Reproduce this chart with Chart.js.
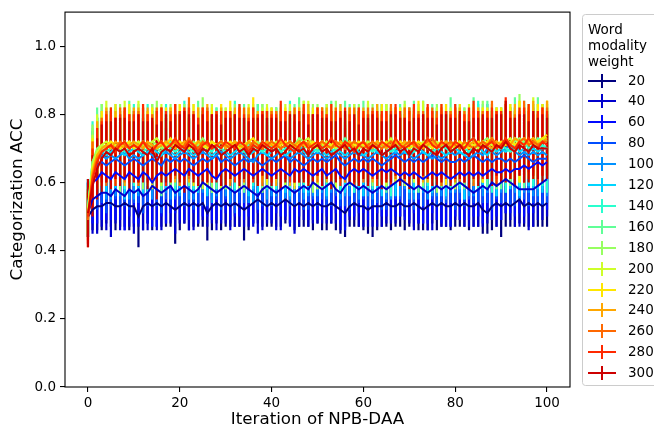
<!DOCTYPE html>
<html>
<head>
<meta charset="utf-8">
<script src="https://cdn.jsdelivr.net/npm/chart.js@4.4.0/dist/chart.umd.min.js"></script>
<style>
  html, body { margin: 0; padding: 0; background: #fff; }
</style>
</head>
<body>
<canvas id="accChart" width="654" height="432"></canvas>
<script>
// iterations (x categories)
const iterations = [
  0,1,2,3,4,5,6,7,8,9,10,11,12,13,14,15,16,17,18,19,
  20,21,22,23,24,25,26,27,28,29,30,31,32,33,34,35,36,37,38,39,
  40,41,42,43,44,45,46,47,48,49,50,51,52,53,54,55,56,57,58,59,
  60,61,62,63,64,65,66,67,68,69,70,71,72,73,74,75,76,77,78,79,
  80,81,82,83,84,85,86,87,88,89,90,91,92,93,94,95,96,97,98,99,100
];
const weights = ["20","40","60","80","100","120","140","160","180","200","220","240","260","280","300"];
const legendTitleLines = ["Word", "modality", "weight"];
const xTickValues = [0, 20, 40, 60, 80, 100];
const yTickValues = [0, 0.2, 0.4, 0.6, 0.8, 1.0];

// mean accuracy per weight
const acc20 = [
  0.50,0.52,0.53,0.53,0.54,0.54,0.53,0.53,0.54,0.53,
  0.53,0.50,0.53,0.54,0.53,0.54,0.53,0.54,0.53,0.52,
  0.53,0.54,0.53,0.54,0.53,0.54,0.51,0.53,0.54,0.53,
  0.54,0.53,0.54,0.53,0.52,0.53,0.54,0.55,0.54,0.53,
  0.54,0.53,0.54,0.55,0.54,0.53,0.54,0.53,0.54,0.53,
  0.54,0.53,0.53,0.54,0.53,0.52,0.51,0.53,0.54,0.53,
  0.53,0.52,0.53,0.53,0.53,0.54,0.53,0.53,0.54,0.53,
  0.53,0.54,0.53,0.52,0.53,0.54,0.53,0.54,0.53,0.53,
  0.54,0.53,0.54,0.53,0.53,0.54,0.52,0.51,0.53,0.54,
  0.53,0.54,0.53,0.54,0.55,0.53,0.54,0.53,0.54,0.53,0.54
];
const acc40 = [
  0.51,0.55,0.56,0.57,0.57,0.56,0.58,0.57,0.56,0.58,
  0.57,0.58,0.56,0.57,0.59,0.58,0.57,0.58,0.59,0.57,
  0.58,0.59,0.58,0.57,0.58,0.60,0.59,0.58,0.57,0.58,
  0.59,0.58,0.57,0.58,0.59,0.58,0.57,0.56,0.58,0.59,
  0.58,0.57,0.58,0.59,0.58,0.57,0.58,0.59,0.58,0.60,
  0.59,0.58,0.59,0.60,0.58,0.57,0.59,0.60,0.59,0.58,
  0.59,0.58,0.57,0.58,0.59,0.58,0.59,0.60,0.61,0.60,
  0.59,0.58,0.59,0.58,0.57,0.58,0.59,0.58,0.59,0.58,
  0.59,0.60,0.59,0.58,0.57,0.58,0.59,0.58,0.60,0.59,
  0.60,0.61,0.60,0.59,0.58,0.58,0.58,0.58,0.59,0.60,0.61
];
const acc60 = [
  0.52,0.60,0.61,0.63,0.62,0.61,0.63,0.62,0.61,0.63,
  0.62,0.61,0.63,0.62,0.60,0.62,0.63,0.62,0.63,0.64,
  0.63,0.62,0.64,0.63,0.62,0.63,0.64,0.62,0.61,0.63,
  0.64,0.63,0.62,0.63,0.64,0.63,0.62,0.63,0.64,0.63,
  0.62,0.63,0.64,0.63,0.62,0.64,0.63,0.64,0.63,0.62,
  0.63,0.64,0.62,0.63,0.64,0.62,0.61,0.63,0.64,0.63,
  0.64,0.63,0.62,0.63,0.64,0.63,0.64,0.63,0.62,0.63,
  0.62,0.63,0.62,0.61,0.62,0.63,0.62,0.63,0.62,0.61,
  0.62,0.63,0.62,0.63,0.62,0.63,0.62,0.63,0.64,0.63,
  0.63,0.64,0.63,0.64,0.64,0.65,0.64,0.65,0.66,0.65,0.66
];
const acc80 = [
  0.52,0.63,0.65,0.66,0.65,0.66,0.67,0.66,0.65,0.66,
  0.67,0.66,0.65,0.66,0.67,0.66,0.65,0.67,0.66,0.67,
  0.66,0.67,0.66,0.65,0.66,0.67,0.66,0.67,0.68,0.66,
  0.67,0.66,0.65,0.66,0.67,0.66,0.67,0.66,0.65,0.66,
  0.67,0.66,0.67,0.68,0.66,0.67,0.66,0.65,0.66,0.67,
  0.66,0.67,0.66,0.67,0.68,0.66,0.65,0.66,0.67,0.66,
  0.67,0.66,0.67,0.66,0.65,0.66,0.67,0.68,0.67,0.66,
  0.67,0.66,0.67,0.66,0.67,0.68,0.67,0.66,0.67,0.66,
  0.66,0.67,0.66,0.67,0.68,0.67,0.66,0.67,0.66,0.67,
  0.67,0.66,0.67,0.66,0.67,0.68,0.67,0.66,0.67,0.67,0.67
];
const acc100 = [
  0.53,0.64,0.67,0.68,0.67,0.68,0.67,0.68,0.69,0.67,
  0.68,0.67,0.68,0.69,0.68,0.67,0.68,0.69,0.68,0.67,
  0.68,0.69,0.68,0.67,0.68,0.69,0.68,0.67,0.68,0.69,
  0.68,0.67,0.68,0.69,0.68,0.67,0.66,0.68,0.69,0.68,
  0.67,0.68,0.69,0.68,0.67,0.68,0.69,0.68,0.67,0.68,
  0.69,0.68,0.67,0.68,0.69,0.68,0.67,0.68,0.69,0.68,
  0.68,0.67,0.68,0.69,0.68,0.67,0.68,0.69,0.68,0.69,
  0.68,0.67,0.68,0.69,0.68,0.67,0.68,0.67,0.68,0.69,
  0.68,0.69,0.68,0.67,0.68,0.69,0.68,0.70,0.69,0.68,
  0.69,0.70,0.71,0.69,0.68,0.69,0.68,0.69,0.68,0.69,0.68
];
const acc120 = [
  0.52,0.65,0.68,0.69,0.68,0.69,0.70,0.69,0.68,0.69,
  0.70,0.69,0.68,0.69,0.70,0.69,0.68,0.70,0.69,0.68,
  0.69,0.70,0.69,0.68,0.69,0.70,0.69,0.68,0.69,0.70,
  0.69,0.68,0.69,0.70,0.69,0.68,0.69,0.70,0.69,0.68,
  0.69,0.70,0.69,0.68,0.69,0.70,0.71,0.69,0.68,0.69,
  0.70,0.69,0.68,0.69,0.70,0.69,0.68,0.69,0.70,0.69,
  0.68,0.69,0.70,0.69,0.68,0.69,0.70,0.69,0.70,0.69,
  0.68,0.69,0.70,0.69,0.68,0.69,0.70,0.69,0.68,0.69,
  0.70,0.69,0.68,0.69,0.70,0.71,0.69,0.68,0.70,0.69,
  0.70,0.69,0.70,0.71,0.69,0.70,0.69,0.70,0.69,0.70,0.70
];
const acc140 = [
  0.53,0.66,0.69,0.70,0.69,0.70,0.71,0.70,0.69,0.70,
  0.71,0.70,0.69,0.70,0.71,0.70,0.69,0.71,0.70,0.69,
  0.70,0.71,0.70,0.69,0.70,0.71,0.70,0.69,0.71,0.70,
  0.69,0.70,0.71,0.70,0.69,0.70,0.71,0.70,0.69,0.70,
  0.71,0.70,0.69,0.70,0.71,0.70,0.69,0.70,0.71,0.70,
  0.69,0.70,0.71,0.70,0.69,0.70,0.71,0.70,0.69,0.70,
  0.71,0.70,0.69,0.70,0.71,0.70,0.69,0.70,0.71,0.70,
  0.70,0.69,0.70,0.71,0.70,0.69,0.70,0.71,0.70,0.69,
  0.70,0.71,0.70,0.69,0.70,0.71,0.72,0.70,0.69,0.70,
  0.71,0.70,0.69,0.70,0.71,0.72,0.70,0.71,0.70,0.71,0.70
];
const acc160 = [
  0.52,0.66,0.69,0.70,0.71,0.70,0.71,0.70,0.72,0.71,
  0.70,0.71,0.72,0.70,0.71,0.70,0.69,0.71,0.72,0.71,
  0.70,0.72,0.71,0.70,0.71,0.72,0.70,0.71,0.70,0.72,
  0.71,0.70,0.71,0.72,0.70,0.71,0.70,0.71,0.72,0.71,
  0.70,0.71,0.72,0.71,0.70,0.71,0.72,0.71,0.70,0.72,
  0.71,0.70,0.72,0.71,0.70,0.71,0.73,0.71,0.70,0.71,
  0.72,0.71,0.70,0.71,0.72,0.70,0.71,0.72,0.71,0.70,
  0.71,0.72,0.70,0.71,0.70,0.72,0.71,0.70,0.71,0.72,
  0.71,0.70,0.71,0.72,0.73,0.71,0.70,0.71,0.72,0.71,
  0.70,0.72,0.71,0.73,0.72,0.71,0.72,0.71,0.73,0.72,0.72
];
const acc180 = [
  0.51,0.66,0.70,0.71,0.70,0.72,0.71,0.70,0.71,0.72,
  0.71,0.72,0.70,0.71,0.72,0.71,0.70,0.72,0.71,0.70,
  0.72,0.71,0.70,0.72,0.71,0.73,0.71,0.70,0.71,0.72,
  0.70,0.71,0.72,0.71,0.70,0.72,0.71,0.72,0.70,0.71,
  0.72,0.71,0.70,0.71,0.72,0.71,0.73,0.72,0.71,0.70,
  0.71,0.72,0.71,0.70,0.72,0.71,0.70,0.71,0.72,0.71,
  0.70,0.72,0.71,0.72,0.70,0.71,0.72,0.71,0.70,0.72,
  0.71,0.70,0.72,0.71,0.73,0.71,0.70,0.72,0.71,0.70,
  0.72,0.71,0.70,0.71,0.72,0.71,0.72,0.73,0.71,0.70,
  0.71,0.72,0.71,0.72,0.73,0.72,0.71,0.72,0.71,0.73,0.72
];
const acc200 = [
  0.52,0.65,0.69,0.71,0.72,0.71,0.70,0.71,0.72,0.70,
  0.71,0.72,0.71,0.70,0.72,0.73,0.71,0.70,0.71,0.72,
  0.71,0.70,0.72,0.71,0.72,0.70,0.71,0.72,0.71,0.70,
  0.72,0.71,0.72,0.70,0.71,0.72,0.71,0.70,0.72,0.71,
  0.71,0.72,0.70,0.71,0.72,0.70,0.71,0.72,0.73,0.71,
  0.70,0.71,0.72,0.71,0.70,0.72,0.71,0.72,0.71,0.70,
  0.71,0.72,0.71,0.70,0.72,0.71,0.73,0.71,0.72,0.71,
  0.72,0.71,0.70,0.72,0.71,0.70,0.72,0.71,0.72,0.71,
  0.70,0.72,0.71,0.72,0.71,0.70,0.71,0.72,0.71,0.72,
  0.71,0.72,0.73,0.71,0.72,0.71,0.72,0.73,0.72,0.73,0.73
];
const acc220 = [
  0.51,0.64,0.68,0.70,0.71,0.72,0.71,0.70,0.71,0.72,
  0.70,0.71,0.72,0.71,0.70,0.71,0.72,0.71,0.73,0.71,
  0.72,0.71,0.70,0.71,0.72,0.71,0.70,0.72,0.71,0.72,
  0.71,0.72,0.71,0.70,0.71,0.72,0.73,0.71,0.70,0.71,
  0.72,0.70,0.71,0.72,0.71,0.70,0.72,0.71,0.70,0.72,
  0.71,0.72,0.70,0.71,0.72,0.71,0.70,0.72,0.71,0.72,
  0.71,0.70,0.71,0.72,0.71,0.72,0.70,0.71,0.72,0.71,
  0.70,0.71,0.72,0.71,0.72,0.70,0.71,0.72,0.71,0.70,
  0.71,0.72,0.71,0.70,0.71,0.72,0.71,0.72,0.73,0.71,
  0.72,0.71,0.72,0.71,0.72,0.73,0.72,0.71,0.72,0.73,0.74
];
const acc240 = [
  0.50,0.63,0.68,0.70,0.71,0.70,0.72,0.71,0.70,0.71,
  0.72,0.71,0.70,0.72,0.71,0.70,0.71,0.72,0.71,0.70,
  0.71,0.72,0.71,0.70,0.72,0.71,0.72,0.70,0.71,0.72,
  0.70,0.71,0.72,0.71,0.70,0.72,0.71,0.70,0.71,0.72,
  0.71,0.70,0.72,0.71,0.70,0.71,0.72,0.71,0.72,0.70,
  0.71,0.72,0.71,0.70,0.71,0.72,0.71,0.72,0.70,0.71,
  0.72,0.71,0.70,0.72,0.71,0.70,0.71,0.72,0.71,0.72,
  0.71,0.72,0.71,0.70,0.71,0.72,0.70,0.71,0.72,0.71,
  0.72,0.71,0.70,0.71,0.72,0.71,0.72,0.71,0.70,0.72,
  0.71,0.72,0.71,0.73,0.72,0.71,0.72,0.73,0.71,0.72,0.73
];
const acc260 = [
  0.49,0.62,0.67,0.69,0.70,0.71,0.70,0.72,0.71,0.70,
  0.71,0.70,0.72,0.71,0.70,0.71,0.72,0.70,0.71,0.72,
  0.70,0.71,0.73,0.71,0.70,0.72,0.71,0.70,0.71,0.72,
  0.71,0.70,0.71,0.72,0.71,0.70,0.72,0.71,0.70,0.71,
  0.72,0.71,0.70,0.71,0.72,0.71,0.70,0.72,0.71,0.70,
  0.71,0.72,0.71,0.70,0.72,0.71,0.70,0.71,0.72,0.71,
  0.70,0.71,0.72,0.71,0.70,0.71,0.72,0.71,0.70,0.71,
  0.72,0.71,0.70,0.71,0.72,0.73,0.71,0.70,0.71,0.72,
  0.71,0.70,0.72,0.71,0.70,0.71,0.72,0.71,0.73,0.71,
  0.70,0.72,0.71,0.70,0.72,0.73,0.71,0.72,0.71,0.72,0.72
];
const acc280 = [
  0.50,0.61,0.66,0.69,0.70,0.71,0.69,0.71,0.72,0.70,
  0.71,0.70,0.72,0.70,0.69,0.71,0.72,0.70,0.71,0.73,
  0.71,0.70,0.72,0.71,0.69,0.71,0.72,0.70,0.71,0.70,
  0.72,0.71,0.70,0.72,0.71,0.69,0.71,0.70,0.72,0.71,
  0.70,0.71,0.73,0.71,0.70,0.69,0.71,0.72,0.70,0.71,
  0.72,0.70,0.71,0.73,0.71,0.70,0.72,0.71,0.69,0.71,
  0.72,0.70,0.71,0.70,0.72,0.71,0.70,0.73,0.71,0.70,
  0.71,0.72,0.70,0.71,0.73,0.71,0.70,0.72,0.71,0.70,
  0.72,0.71,0.70,0.72,0.73,0.71,0.70,0.71,0.72,0.70,
  0.71,0.73,0.71,0.70,0.72,0.71,0.73,0.71,0.70,0.72,0.71
];
const acc300 = [
  0.51,0.59,0.64,0.67,0.69,0.68,0.70,0.69,0.70,0.68,
  0.69,0.70,0.69,0.68,0.70,0.66,0.69,0.70,0.69,0.71,
  0.70,0.69,0.71,0.70,0.68,0.70,0.69,0.71,0.70,0.68,
  0.69,0.70,0.71,0.69,0.70,0.68,0.70,0.69,0.71,0.70,
  0.69,0.70,0.68,0.69,0.71,0.70,0.69,0.70,0.68,0.70,
  0.71,0.69,0.70,0.68,0.69,0.70,0.71,0.69,0.70,0.68,
  0.70,0.69,0.71,0.70,0.68,0.69,0.70,0.71,0.69,0.70,
  0.68,0.70,0.69,0.71,0.70,0.69,0.68,0.70,0.71,0.69,
  0.70,0.71,0.69,0.68,0.70,0.69,0.71,0.70,0.69,0.71,
  0.70,0.72,0.70,0.69,0.71,0.70,0.69,0.71,0.70,0.70,0.70
];

// error bar half-lengths per weight
const err20 = [
  0.06,0.06,0.07,0.07,0.06,0.07,0.07,0.06,0.07,0.07,
  0.06,0.09,0.07,0.06,0.07,0.07,0.06,0.07,0.06,0.10,
  0.07,0.06,0.07,0.07,0.06,0.07,0.08,0.07,0.06,0.07,
  0.07,0.06,0.07,0.06,0.09,0.07,0.06,0.07,0.07,0.06,
  0.07,0.06,0.07,0.07,0.06,0.07,0.07,0.06,0.07,0.07,
  0.06,0.07,0.07,0.06,0.07,0.07,0.07,0.06,0.07,0.06,
  0.07,0.07,0.09,0.07,0.06,0.07,0.07,0.06,0.07,0.07,
  0.06,0.07,0.07,0.06,0.07,0.06,0.07,0.07,0.06,0.07,
  0.07,0.06,0.07,0.07,0.06,0.07,0.07,0.06,0.07,0.07,
  0.09,0.07,0.06,0.07,0.07,0.06,0.07,0.06,0.07,0.06,0.07
];
const err40 = [
  0.07,0.10,0.11,0.10,0.11,0.12,0.10,0.11,0.10,0.11,
  0.12,0.11,0.10,0.11,0.10,0.12,0.11,0.10,0.11,0.12,
  0.10,0.11,0.12,0.11,0.10,0.11,0.12,0.10,0.11,0.10,
  0.11,0.12,0.10,0.11,0.12,0.11,0.10,0.11,0.12,0.11,
  0.10,0.11,0.12,0.10,0.11,0.12,0.11,0.10,0.11,0.12,
  0.11,0.10,0.11,0.12,0.10,0.11,0.12,0.11,0.10,0.11,
  0.12,0.11,0.10,0.11,0.12,0.10,0.11,0.12,0.11,0.10,
  0.11,0.12,0.11,0.10,0.11,0.12,0.10,0.11,0.12,0.11,
  0.10,0.11,0.12,0.11,0.10,0.11,0.12,0.10,0.11,0.12,
  0.11,0.10,0.11,0.12,0.11,0.10,0.12,0.11,0.10,0.11,0.11
];
const err60 = [
  0.08,0.12,0.13,0.14,0.13,0.12,0.14,0.13,0.15,0.13,
  0.14,0.13,0.12,0.14,0.13,0.15,0.13,0.14,0.12,0.13,
  0.14,0.13,0.15,0.12,0.14,0.13,0.14,0.13,0.12,0.14,
  0.13,0.14,0.12,0.13,0.15,0.13,0.14,0.12,0.13,0.14,
  0.13,0.12,0.14,0.13,0.14,0.15,0.13,0.12,0.14,0.13,
  0.14,0.13,0.12,0.14,0.13,0.14,0.15,0.13,0.14,0.12,
  0.13,0.14,0.13,0.12,0.14,0.13,0.15,0.13,0.12,0.14,
  0.13,0.12,0.14,0.13,0.14,0.12,0.13,0.15,0.13,0.14,
  0.12,0.14,0.13,0.14,0.12,0.13,0.14,0.13,0.15,0.13,
  0.14,0.13,0.12,0.14,0.13,0.15,0.13,0.14,0.13,0.12,0.14
];
const err80 = [
  0.08,0.12,0.13,0.12,0.14,0.13,0.12,0.13,0.12,0.14,
  0.13,0.12,0.14,0.13,0.12,0.13,0.14,0.12,0.13,0.12,
  0.13,0.14,0.12,0.13,0.12,0.14,0.13,0.12,0.13,0.14,
  0.12,0.13,0.14,0.12,0.13,0.12,0.13,0.14,0.12,0.13,
  0.14,0.12,0.13,0.12,0.13,0.14,0.12,0.13,0.14,0.12,
  0.13,0.12,0.13,0.14,0.12,0.13,0.12,0.14,0.13,0.12,
  0.12,0.13,0.14,0.12,0.13,0.14,0.12,0.13,0.12,0.14,
  0.13,0.14,0.12,0.13,0.12,0.13,0.14,0.12,0.13,0.12,
  0.14,0.12,0.13,0.12,0.14,0.13,0.12,0.13,0.14,0.12,
  0.13,0.12,0.14,0.13,0.12,0.13,0.14,0.12,0.13,0.14,0.13
];
const err100 = [
  0.08,0.11,0.12,0.11,0.12,0.13,0.11,0.12,0.11,0.12,
  0.13,0.11,0.12,0.11,0.13,0.12,0.11,0.12,0.13,0.11,
  0.12,0.11,0.13,0.12,0.11,0.12,0.11,0.13,0.12,0.11,
  0.12,0.13,0.11,0.12,0.11,0.13,0.12,0.11,0.12,0.13,
  0.11,0.12,0.11,0.13,0.12,0.11,0.12,0.13,0.11,0.12,
  0.13,0.11,0.12,0.11,0.12,0.13,0.11,0.12,0.11,0.13,
  0.12,0.11,0.13,0.12,0.11,0.12,0.13,0.11,0.12,0.11,
  0.13,0.12,0.11,0.12,0.13,0.11,0.12,0.11,0.13,0.12,
  0.11,0.12,0.13,0.11,0.12,0.11,0.12,0.13,0.11,0.12,
  0.12,0.13,0.11,0.12,0.13,0.12,0.11,0.13,0.12,0.11,0.12
];
const err120 = [
  0.08,0.10,0.11,0.12,0.11,0.10,0.12,0.11,0.13,0.11,
  0.10,0.12,0.11,0.10,0.11,0.13,0.11,0.12,0.10,0.11,
  0.12,0.11,0.10,0.11,0.12,0.11,0.13,0.10,0.11,0.12,
  0.11,0.10,0.12,0.11,0.10,0.12,0.11,0.13,0.11,0.10,
  0.11,0.12,0.10,0.11,0.13,0.11,0.10,0.12,0.11,0.11,
  0.10,0.11,0.12,0.11,0.10,0.12,0.11,0.10,0.13,0.11,
  0.12,0.11,0.10,0.11,0.12,0.10,0.11,0.13,0.11,0.10,
  0.11,0.12,0.11,0.10,0.11,0.12,0.11,0.10,0.12,0.11,
  0.10,0.11,0.13,0.11,0.10,0.12,0.11,0.10,0.11,0.13,
  0.11,0.10,0.12,0.11,0.13,0.11,0.10,0.12,0.11,0.13,0.12
];
const err140 = [
  0.08,0.12,0.10,0.13,0.09,0.11,0.12,0.08,0.11,0.10,
  0.12,0.09,0.11,0.13,0.10,0.08,0.11,0.12,0.09,0.11,
  0.10,0.13,0.09,0.11,0.12,0.08,0.10,0.12,0.11,0.09,
  0.11,0.10,0.13,0.09,0.08,0.11,0.12,0.10,0.09,0.12,
  0.10,0.12,0.09,0.11,0.13,0.10,0.08,0.11,0.12,0.09,
  0.11,0.09,0.12,0.10,0.11,0.13,0.09,0.10,0.12,0.08,
  0.10,0.12,0.11,0.09,0.12,0.10,0.13,0.09,0.11,0.10,
  0.12,0.09,0.10,0.13,0.11,0.08,0.12,0.10,0.09,0.11,
  0.10,0.12,0.09,0.11,0.10,0.13,0.11,0.09,0.12,0.10,
  0.11,0.13,0.10,0.09,0.12,0.11,0.10,0.12,0.09,0.12,0.13
];
const err160 = [
  0.07,0.10,0.13,0.09,0.11,0.12,0.08,0.11,0.10,0.13,
  0.09,0.12,0.10,0.08,0.12,0.11,0.13,0.09,0.10,0.12,
  0.11,0.09,0.12,0.10,0.13,0.09,0.11,0.08,0.12,0.10,
  0.09,0.12,0.10,0.11,0.13,0.09,0.10,0.12,0.11,0.08,
  0.12,0.10,0.11,0.09,0.10,0.12,0.13,0.09,0.11,0.10,
  0.09,0.12,0.10,0.13,0.09,0.10,0.11,0.12,0.08,0.11,
  0.12,0.09,0.10,0.12,0.11,0.13,0.09,0.10,0.12,0.09,
  0.10,0.12,0.13,0.09,0.10,0.11,0.09,0.12,0.10,0.13,
  0.12,0.09,0.11,0.10,0.12,0.09,0.10,0.13,0.11,0.09,
  0.12,0.10,0.11,0.12,0.09,0.13,0.11,0.10,0.12,0.11,0.10
];
const err180 = [
  0.07,0.11,0.09,0.12,0.10,0.08,0.11,0.13,0.09,0.10,
  0.11,0.09,0.12,0.10,0.11,0.13,0.09,0.10,0.12,0.08,
  0.09,0.12,0.10,0.11,0.09,0.12,0.10,0.13,0.09,0.11,
  0.12,0.09,0.11,0.10,0.12,0.08,0.11,0.09,0.13,0.10,
  0.09,0.11,0.12,0.10,0.09,0.11,0.10,0.12,0.09,0.13,
  0.12,0.10,0.09,0.11,0.12,0.10,0.08,0.11,0.10,0.12,
  0.09,0.11,0.12,0.10,0.09,0.12,0.11,0.08,0.10,0.12,
  0.11,0.09,0.10,0.12,0.09,0.11,0.13,0.10,0.12,0.09,
  0.10,0.11,0.12,0.09,0.11,0.10,0.12,0.09,0.10,0.12,
  0.09,0.11,0.12,0.10,0.13,0.10,0.09,0.11,0.12,0.10,0.11
];
const err200 = [
  0.07,0.09,0.11,0.10,0.12,0.09,0.10,0.11,0.12,0.08,
  0.10,0.12,0.09,0.11,0.10,0.09,0.12,0.10,0.11,0.09,
  0.12,0.10,0.11,0.09,0.10,0.12,0.09,0.11,0.10,0.12,
  0.10,0.11,0.09,0.12,0.10,0.11,0.09,0.11,0.10,0.12,
  0.11,0.09,0.10,0.12,0.11,0.09,0.10,0.12,0.11,0.10,
  0.12,0.09,0.11,0.10,0.12,0.09,0.11,0.10,0.12,0.11,
  0.10,0.12,0.09,0.11,0.10,0.12,0.09,0.11,0.10,0.12,
  0.09,0.11,0.10,0.12,0.11,0.09,0.10,0.12,0.09,0.11,
  0.12,0.10,0.09,0.11,0.12,0.10,0.11,0.09,0.12,0.10,
  0.11,0.12,0.09,0.10,0.12,0.11,0.10,0.12,0.11,0.09,0.11
];
const err220 = [
  0.07,0.09,0.10,0.11,0.09,0.10,0.12,0.09,0.10,0.11,
  0.10,0.09,0.11,0.10,0.12,0.09,0.10,0.11,0.09,0.10,
  0.11,0.10,0.09,0.12,0.10,0.09,0.11,0.10,0.09,0.11,
  0.09,0.12,0.10,0.09,0.11,0.10,0.12,0.09,0.10,0.11,
  0.10,0.09,0.11,0.10,0.09,0.12,0.10,0.09,0.11,0.10,
  0.11,0.10,0.09,0.12,0.10,0.11,0.09,0.10,0.11,0.09,
  0.10,0.11,0.10,0.09,0.12,0.09,0.10,0.11,0.10,0.09,
  0.11,0.10,0.12,0.09,0.10,0.11,0.09,0.10,0.12,0.10,
  0.09,0.11,0.10,0.12,0.09,0.10,0.11,0.10,0.09,0.11,
  0.10,0.09,0.11,0.10,0.12,0.09,0.11,0.10,0.11,0.10,0.10
];
const err240 = [
  0.07,0.09,0.10,0.09,0.11,0.10,0.09,0.10,0.11,0.09,
  0.10,0.11,0.09,0.10,0.09,0.11,0.10,0.09,0.11,0.10,
  0.09,0.10,0.11,0.09,0.10,0.09,0.11,0.10,0.09,0.10,
  0.11,0.09,0.10,0.11,0.09,0.10,0.09,0.11,0.10,0.09,
  0.10,0.11,0.09,0.10,0.11,0.09,0.10,0.09,0.11,0.10,
  0.09,0.10,0.11,0.09,0.10,0.11,0.10,0.09,0.10,0.11,
  0.10,0.09,0.10,0.11,0.09,0.10,0.11,0.10,0.09,0.10,
  0.11,0.10,0.09,0.10,0.11,0.09,0.10,0.11,0.09,0.10,
  0.09,0.11,0.10,0.09,0.10,0.11,0.09,0.10,0.11,0.09,
  0.10,0.11,0.09,0.10,0.09,0.11,0.10,0.11,0.09,0.10,0.11
];
const err260 = [
  0.08,0.10,0.09,0.10,0.11,0.10,0.09,0.10,0.11,0.10,
  0.10,0.11,0.10,0.09,0.10,0.11,0.10,0.09,0.10,0.11,
  0.11,0.10,0.12,0.10,0.09,0.10,0.11,0.10,0.10,0.09,
  0.10,0.11,0.09,0.10,0.11,0.10,0.10,0.09,0.11,0.10,
  0.09,0.10,0.11,0.10,0.09,0.11,0.10,0.10,0.09,0.10,
  0.11,0.10,0.09,0.11,0.10,0.09,0.10,0.11,0.10,0.10,
  0.10,0.11,0.10,0.09,0.10,0.10,0.11,0.10,0.09,0.11,
  0.10,0.09,0.11,0.10,0.10,0.09,0.10,0.11,0.10,0.09,
  0.11,0.10,0.09,0.10,0.11,0.10,0.09,0.10,0.11,0.10,
  0.10,0.11,0.10,0.10,0.09,0.11,0.10,0.09,0.10,0.10,0.10
];
const err280 = [
  0.08,0.09,0.10,0.09,0.10,0.11,0.10,0.09,0.10,0.10,
  0.09,0.10,0.11,0.10,0.09,0.10,0.10,0.11,0.09,0.10,
  0.10,0.12,0.10,0.09,0.10,0.11,0.09,0.10,0.10,0.11,
  0.09,0.10,0.10,0.11,0.09,0.10,0.11,0.10,0.09,0.10,
  0.10,0.09,0.11,0.10,0.10,0.09,0.10,0.11,0.10,0.09,
  0.10,0.11,0.09,0.10,0.10,0.11,0.10,0.09,0.10,0.11,
  0.09,0.10,0.10,0.11,0.09,0.10,0.11,0.10,0.10,0.09,
  0.10,0.11,0.10,0.09,0.10,0.10,0.09,0.11,0.10,0.10,
  0.11,0.09,0.10,0.10,0.11,0.10,0.09,0.10,0.10,0.11,
  0.10,0.12,0.10,0.09,0.10,0.11,0.10,0.09,0.11,0.10,0.10
];
const err300 = [
  0.10,0.09,0.09,0.10,0.09,0.10,0.09,0.10,0.09,0.10,
  0.09,0.10,0.09,0.10,0.09,0.11,0.09,0.10,0.09,0.09,
  0.10,0.12,0.09,0.10,0.09,0.10,0.09,0.09,0.10,0.09,
  0.10,0.09,0.09,0.10,0.09,0.10,0.09,0.10,0.09,0.09,
  0.10,0.09,0.10,0.09,0.09,0.10,0.09,0.10,0.09,0.10,
  0.09,0.10,0.09,0.10,0.09,0.09,0.10,0.09,0.10,0.09,
  0.09,0.10,0.09,0.09,0.10,0.09,0.10,0.09,0.10,0.09,
  0.10,0.09,0.10,0.09,0.09,0.10,0.09,0.10,0.09,0.10,
  0.09,0.10,0.09,0.10,0.09,0.10,0.09,0.09,0.10,0.09,
  0.10,0.12,0.09,0.10,0.09,0.10,0.09,0.10,0.09,0.10,0.09
];

const accSeries = [acc20, acc40, acc60, acc80, acc100, acc120, acc140, acc160, acc180, acc200, acc220, acc240, acc260, acc280, acc300];
const errSeries = [err20, err40, err60, err80, err100, err120, err140, err160, err180, err200, err220, err240, err260, err280, err300];

// jet colormap samples
const lineColors = ["#000080","#0000cd","#0009ff","#004dff","#0091ff","#00d4ff","#29ffce","#60ff97","#97ff60","#ceff29","#ffe600","#ffa700","#ff6800","#ff2900","#cd0000"];

const FONT = "'DejaVu Sans', sans-serif";

// vertical error bars, drawn under all the lines
const errorBarPlugin = {
  id: "errorBars",
  beforeDatasetsDraw(chart) {
    const { ctx, chartArea, scales } = chart;
    ctx.save();
    ctx.beginPath();
    ctx.rect(chartArea.left, chartArea.top, chartArea.right - chartArea.left, chartArea.bottom - chartArea.top);
    ctx.clip();
    ctx.lineWidth = 2.2;
    accSeries.forEach((acc, s) => {
      ctx.strokeStyle = lineColors[s];
      ctx.beginPath();
      acc.forEach((v, i) => {
        const px = scales.x.getPixelForValue(iterations[i]);
        ctx.moveTo(px, scales.y.getPixelForValue(v + errSeries[s][i]));
        ctx.lineTo(px, scales.y.getPixelForValue(v - errSeries[s][i]));
      });
      ctx.stroke();
    });
    ctx.restore();
  },
};

// four spines around the axes
const framePlugin = {
  id: "frame",
  afterDatasetsDraw(chart) {
    const { ctx, chartArea } = chart;
    ctx.save();
    ctx.strokeStyle = "#000";
    ctx.lineWidth = 1.1;
    ctx.strokeRect(chartArea.left, chartArea.top, chartArea.right - chartArea.left, chartArea.bottom - chartArea.top);
    ctx.restore();
  },
};

// legend outside on the right, errorbar-style handles
const sideLegendPlugin = {
  id: "sideLegend",
  afterDraw(chart) {
    const { ctx } = chart;
    const left = 582, top = 14, bottom = 385;
    ctx.save();
    ctx.fillStyle = "rgba(255,255,255,0.8)";
    ctx.strokeStyle = "#cccccc";
    ctx.lineWidth = 1;
    ctx.beginPath();
    if (ctx.roundRect) ctx.roundRect(left + 0.5, top + 0.5, 90, bottom - top, 3);
    else ctx.rect(left + 0.5, top + 0.5, 90, bottom - top);
    ctx.fill();
    ctx.stroke();

    ctx.font = "13.5px " + FONT;
    ctx.textBaseline = "middle";
    ctx.textAlign = "left";
    ctx.fillStyle = "#000";
    legendTitleLines.forEach((t, k) => ctx.fillText(t, 588, 30 + k * 16));

    weights.forEach((w, s) => {
      const cy = Math.round(80.5 + s * 20.9);
      ctx.strokeStyle = lineColors[s];
      ctx.lineWidth = 2;
      ctx.beginPath();
      ctx.moveTo(588, cy);
      ctx.lineTo(616, cy);
      ctx.moveTo(602, cy - 7);
      ctx.lineTo(602, cy + 7);
      ctx.stroke();
      ctx.fillStyle = "#000";
      ctx.fillText(w, 628, cy);
    });
    ctx.restore();
  },
};

new Chart(document.getElementById("accChart"), {
  type: "line",
  data: {
    datasets: accSeries.map((acc, s) => ({
      label: weights[s],
      data: acc.map((v, i) => ({ x: iterations[i], y: v })),
      borderColor: lineColors[s],
      backgroundColor: lineColors[s],
      borderWidth: 2,
      pointRadius: 0,
      tension: 0,
      fill: false,
      order: accSeries.length - s,
    })),
  },
  options: {
    responsive: false,
    animation: false,
    devicePixelRatio: 1,
    layout: { padding: { left: 0, top: 12, right: 84, bottom: 0 }, autoPadding: false },
    plugins: { legend: { display: false }, tooltip: { enabled: false } },
    scales: {
      x: {
        type: "linear",
        min: -5,
        max: 105,
        afterBuildTicks: (axis) => { axis.ticks = xTickValues.map((v) => ({ value: v })); },
        afterFit: (axis) => { axis.height = 45; },
        grid: { display: true, drawOnChartArea: false, drawTicks: true, tickLength: 5, color: "#000", lineWidth: 1.1 },
        border: { display: false },
        ticks: { color: "#000", font: { family: FONT, size: 13.5 }, padding: 3, maxRotation: 0 },
        title: { display: true, text: "Iteration of NPB-DAA", color: "#000", font: { family: FONT, size: 16.7 }, padding: { top: 0, bottom: 2 } },
      },
      y: {
        type: "linear",
        min: 0,
        max: 1.1,
        afterBuildTicks: (axis) => { axis.ticks = yTickValues.map((v) => ({ value: v })); },
        afterFit: (axis) => { axis.width = 65; },
        grid: { display: true, drawOnChartArea: false, drawTicks: true, tickLength: 5, color: "#000", lineWidth: 1.1 },
        border: { display: false },
        ticks: { color: "#000", font: { family: FONT, size: 13.5 }, padding: 4, callback: (v) => Number(v).toFixed(1) },
        title: { display: true, text: "Categorization ACC", color: "#000", font: { family: FONT, size: 16.7 }, padding: { top: 8, bottom: 0 } },
      },
    },
  },
  plugins: [errorBarPlugin, framePlugin, sideLegendPlugin],
});
</script>
</body>
</html>
